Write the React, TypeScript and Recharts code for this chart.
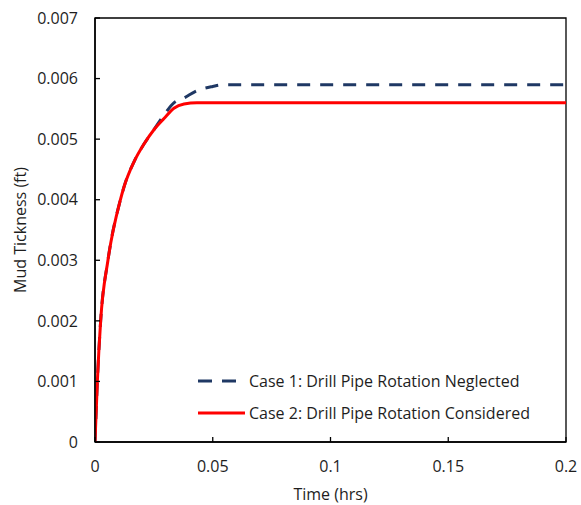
import React from 'react';
import { LineChart, Line, XAxis, YAxis, Legend, ReferenceArea } from 'recharts';

const timeHrs = [0, 0.001, 0.0024, 0.0055, 0.0108, 0.0123, 0.0166, 0.0208, 0.0251, 0.0293, 0.0335, 0.0378, 0.0433, 0.05, 0.055, 0.1, 0.15, 0.2];
const case1Thickness = [0, 0.001, 0.002, 0.003, 0.004, 0.00421, 0.00463, 0.00492, 0.00516, 0.0054, 0.0056, 0.00568, 0.0058, 0.00587, 0.0059, 0.0059, 0.0059, 0.0059];
const case2Thickness = [0, 0.001, 0.002, 0.003, 0.004, 0.00421, 0.00463, 0.00492, 0.00516, 0.00534, 0.00551, 0.00558, 0.0056, 0.0056, 0.0056, 0.0056, 0.0056, 0.0056];

const xTicks = [0, 0.05, 0.1, 0.15, 0.2];
const xTickLabels = ['0', '0.05', '0.1', '0.15', '0.2'];
const yTicks = [0, 0.001, 0.002, 0.003, 0.004, 0.005, 0.006, 0.007];
const yTickLabels = ['0', '0.001', '0.002', '0.003', '0.004', '0.005', '0.006', '0.007'];
const seriesNames = ['Case 1: Drill Pipe Rotation Neglected', 'Case 2: Drill Pipe Rotation Considered'];
const xTitle = 'Time (hrs)';
const yTitle = 'Mud Tickness (ft)';

const data = timeHrs.map((t, i) => ({ t, case1: case1Thickness[i], case2: case2Thickness[i] }));

const FONT = "'Open Sans', sans-serif";
const TEXT = '#1e1e1e';
const BLUE = '#1F3864';
const RED = '#FF0000';

const XTitle = (props: any) => {
  const vb = props.viewBox || {};
  const cx = vb.x + vb.width / 2;
  return (
    <text x={cx} y={500} textAnchor="middle" fontFamily={FONT} fontSize={16} fill={TEXT}>
      {xTitle}
    </text>
  );
};

const YTitle = (props: any) => {
  const vb = props.viewBox || {};
  const cx = 19.5;
  const cy = vb.y + vb.height / 2;
  return (
    <text x={cx} y={cy} transform={`rotate(-90 ${cx} ${cy})`} textAnchor="middle" dominantBaseline="central" fontFamily={FONT} fontSize={16} fill={TEXT}>
      {yTitle}
    </text>
  );
};

const renderLegend = (props: any) => {
  const payload = props.payload || [];
  return (
    <div style={{ fontFamily: FONT, fontSize: 16, color: TEXT }}>
      {payload.map((entry: any, i: number) => {
        const dash = i === 0 ? '14 10' : undefined;
        return (
          <div key={i} style={{ height: 32, display: 'flex', alignItems: 'center', whiteSpace: 'nowrap' }}>
            <svg width={47} height={10} style={{ display: 'block' }}>
              <line x1={0} y1={5} x2={47} y2={5} stroke={entry.color} strokeWidth={3} strokeDasharray={dash} />
            </svg>
            <span style={{ marginLeft: 4 }}>{entry.value}</span>
          </div>
        );
      })}
    </div>
  );
};

export default function App() {
  return (
    <div style={{ position: 'fixed', left: 0, top: 0, width: 581, height: 505, background: '#fff' }}>
      <LineChart width={581} height={505} data={data} margin={{ top: 18, right: 15, left: 35, bottom: 33 }} style={{ display: 'block' }}>
        <ReferenceArea x1={0} x2={0.2} y1={0} y2={0.007} stroke="#000" strokeWidth={1.3} fill="none" fillOpacity={0} ifOverflow="visible" />
        <XAxis
          dataKey="t"
          type="number"
          domain={[0, 0.2]}
          ticks={xTicks}
          tickFormatter={(v: number) => xTickLabels[xTicks.indexOf(v)] ?? String(v)}
          height={30}
          tickSize={-5}
          tickMargin={24}
          axisLine={{ stroke: '#000', strokeWidth: 1.5 }}
          tickLine={{ stroke: '#000', strokeWidth: 1.3 }}
          tick={{ fontFamily: FONT, fontSize: 16, fill: TEXT }}
          label={<XTitle />}
          allowDataOverflow
        />
        <YAxis
          type="number"
          domain={[0, 0.007]}
          ticks={yTicks}
          tickFormatter={(v: number) => yTickLabels[yTicks.indexOf(v)] ?? String(v)}
          width={60}
          tickSize={-5}
          tickMargin={22}
          axisLine={{ stroke: '#000', strokeWidth: 1.5 }}
          tickLine={{ stroke: '#000', strokeWidth: 1.3 }}
          tick={{ fontFamily: FONT, fontSize: 16, fill: TEXT }}
          label={<YTitle />}
          allowDataOverflow
        />
        <Line type="monotone" dataKey="case1" name={seriesNames[0]} stroke={BLUE} strokeWidth={3} strokeDasharray="13 10" dot={false} activeDot={false} isAnimationActive={false} />
        <Line type="monotone" dataKey="case2" name={seriesNames[1]} stroke={RED} strokeWidth={3} dot={false} activeDot={false} isAnimationActive={false} />
        <Legend layout="vertical" align="center" verticalAlign="middle" content={renderLegend} wrapperStyle={{ position: 'absolute', left: 198, top: 365, width: 'auto', bottom: 'auto', right: 'auto' }} />
      </LineChart>
    </div>
  );
}
